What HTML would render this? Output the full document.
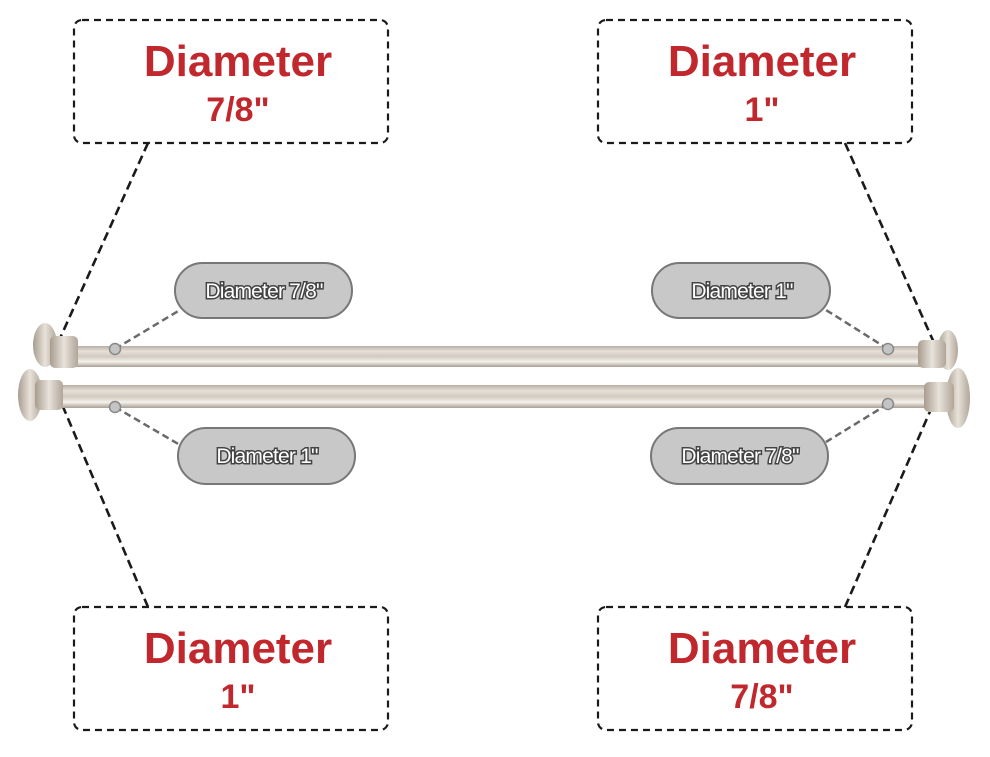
<!DOCTYPE html>
<html><head><style>body{margin:0;background:#fff}</style></head><body>
<svg width="990" height="752" viewBox="0 0 990 752" xmlns="http://www.w3.org/2000/svg" font-family="Liberation Sans, sans-serif">
<defs>
<linearGradient id="rod" x1="0" y1="0" x2="0" y2="1">
<stop offset="0" stop-color="#b8aea3"/><stop offset="0.25" stop-color="#e6e0d8"/><stop offset="0.5" stop-color="#d2cac0"/><stop offset="0.75" stop-color="#f4f1ec"/><stop offset="1" stop-color="#a89e93"/>
</linearGradient>
<linearGradient id="cap" x1="0" y1="0" x2="1" y2="0">
<stop offset="0" stop-color="#a89c8e"/><stop offset="0.5" stop-color="#e8e2da"/><stop offset="1" stop-color="#b0a598"/>
</linearGradient>
</defs>
<g fill="none" stroke="#1a1a1a" stroke-width="2.2" stroke-dasharray="7,5">
<rect x="74" y="20" width="314" height="123" rx="8"/>
<rect x="598" y="20" width="314" height="123" rx="8"/>
<rect x="74" y="607" width="314" height="123" rx="8"/>
<rect x="598" y="607" width="314" height="123" rx="8"/>
</g>
<g fill="none" stroke="#1a1a1a" stroke-width="2.6" stroke-dasharray="9,5">
<line x1="148" y1="143" x2="57" y2="345"/>
<line x1="148" y1="607" x2="58" y2="395"/>
<line x1="845" y1="143" x2="935" y2="345"/>
<line x1="845" y1="607" x2="935" y2="400"/>
</g>
<g fill="#c0282d" font-weight="bold" text-anchor="middle">
<text x="238" y="76" font-size="44">Diameter</text>
<text x="238" y="121" font-size="34">7/8"</text>
<text x="762" y="76" font-size="44">Diameter</text>
<text x="762" y="121" font-size="34">1"</text>
<text x="238" y="663" font-size="44">Diameter</text>
<text x="238" y="708" font-size="34">1"</text>
<text x="762" y="663" font-size="44">Diameter</text>
<text x="762" y="708" font-size="34">7/8"</text>
</g>
<rect x="70" y="346" width="860" height="21" fill="url(#rod)"/>
<rect x="40" y="385" width="900" height="23" fill="url(#rod)"/>
<ellipse cx="45" cy="345" rx="12" ry="22" fill="url(#cap)"/>
<rect x="50" y="336" width="28" height="32" rx="5" fill="url(#cap)"/>
<ellipse cx="30" cy="395" rx="12" ry="26" fill="url(#cap)"/>
<rect x="35" y="380" width="28" height="30" rx="5" fill="url(#cap)"/>
<ellipse cx="948" cy="350" rx="10" ry="20" fill="url(#cap)"/>
<rect x="918" y="340" width="28" height="28" rx="5" fill="url(#cap)"/>
<ellipse cx="958" cy="398" rx="12" ry="30" fill="url(#cap)"/>
<rect x="924" y="382" width="30" height="30" rx="5" fill="url(#cap)"/>
<g stroke="#6a6a6a" stroke-width="2.5" stroke-dasharray="7,4" fill="none">
<line x1="115" y1="349" x2="180" y2="310"/>
<line x1="115" y1="407" x2="180" y2="445"/>
<line x1="888" y1="349" x2="826" y2="310"/>
<line x1="888" y1="404" x2="826" y2="442"/>
</g>
<g fill="#c4c4c4" stroke="#888" stroke-width="1.5">
<circle cx="115" cy="349" r="5.5"/><circle cx="115" cy="407" r="5.5"/>
<circle cx="888" cy="349" r="5.5"/><circle cx="888" cy="404" r="5.5"/>
</g>
<g fill="#c8c8c8" stroke="#777" stroke-width="2">
<rect x="175" y="263" width="177" height="55" rx="27.5"/>
<rect x="178" y="428" width="177" height="56" rx="28"/>
<rect x="652" y="263" width="178" height="55" rx="27.5"/>
<rect x="651" y="428" width="177" height="56" rx="28"/>
</g>
<g font-size="21" text-anchor="middle" fill="#fff" stroke="#444" stroke-width="3" paint-order="stroke" letter-spacing="-0.8">
<text x="264" y="298">Diameter 7/8"</text>
<text x="267" y="463">Diameter 1"</text>
<text x="742" y="298">Diameter 1"</text>
<text x="740" y="463">Diameter 7/8"</text>
</g>
</svg>
</body></html>
